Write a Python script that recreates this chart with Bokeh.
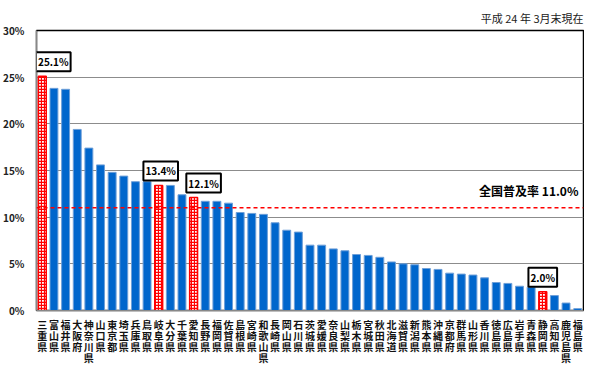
from bokeh.plotting import figure
from bokeh.models import FactorRange, Span, Label, ColumnDataSource, FixedTicker
from bokeh.embed import file_html
from bokeh.resources import INLINE

# ---- data ----
prefectures = ["三重県", "富山県", "福井県", "大阪府", "神奈川県", "山口県", "東京都", "埼玉県",
               "兵庫県", "鳥取県", "岐阜県", "大分県", "千葉県", "愛知県", "長野県", "福岡県",
               "佐賀県", "島根県", "宮崎県", "和歌山県", "長崎県", "岡山県", "石川県", "茨城県",
               "愛媛県", "奈良県", "山梨県", "栃木県", "宮城県", "秋田県", "北海道", "滋賀県",
               "新潟県", "熊本県", "沖縄県", "京都府", "群馬県", "山形県", "香川県", "徳島県",
               "広島県", "岩手県", "青森県", "静岡県", "高知県", "鹿児島県", "福島県"]
values = [25.1, 23.8, 23.7, 19.4, 17.4, 15.6, 14.8, 14.4,
          13.8, 13.8, 13.4, 13.4, 12.4, 12.1, 11.7, 11.7,
          11.5, 10.5, 10.4, 10.3, 9.4, 8.6, 8.4, 7.0,
          7.0, 6.6, 6.4, 6.0, 5.9, 5.7, 5.2, 5.0,
          4.9, 4.5, 4.4, 4.0, 3.9, 3.8, 3.5, 3.0,
          2.9, 2.6, 2.5, 2.0, 1.6, 0.8, 0.2]
highlighted = ["三重県", "岐阜県", "愛知県", "静岡県"]
national_rate = 11.0
y_ticks = [0, 5, 10, 15, 20, 25, 30]
y_tick_labels = ["0%", "5%", "10%", "15%", "20%", "25%", "30%"]
title_text = "平成 24 年 3月末現在"

FONT = "Noto Sans CJK JP"
STACK_FONT = "DejaVu Sans, Noto Sans CJK JP"

# category factors: one character per line
factors = ["\n".join(n) for n in prefectures]

blue = dict(x=[], top=[])
red = dict(x=[], top=[])
for name, f, v in zip(prefectures, factors, values):
    d = red if name in highlighted else blue
    d["x"].append(f)
    d["top"].append(v)

p = figure(width=584, height=366,
           x_range=FactorRange(factors=factors, range_padding=0),
           y_range=(y_ticks[0], y_ticks[-1]),
           output_backend="svg", toolbar_location=None,
           min_border_left=0, min_border_right=1, min_border_top=30, min_border_bottom=0)

p.title.text = title_text
p.title.align = "right"
p.title.text_font = FONT
p.title.text_font_size = "11px"
p.title.text_font_style = "normal"
p.title.text_color = "#222222"

p.vbar(x="x", top="top", width=0.68, source=ColumnDataSource(blue),
       fill_color="#0066CC", line_color="#6E9FD8", line_width=1)
p.vbar(x="x", top="top", width=0.68, source=ColumnDataSource(red),
       fill_color="white", line_color="red", line_width=1.5,
       hatch_pattern="+", hatch_color="red", hatch_scale=3, hatch_weight=1.3)

p.add_layout(Span(location=national_rate, dimension="width", line_color="red",
                  line_dash="4 3", line_width=1.5))
p.add_layout(Label(x=len(factors), y=national_rate, x_offset=-5, y_offset=9,
                   text=f"全国普及率 {national_rate:.1f}%", text_align="right",
                   text_baseline="bottom", text_font=FONT, text_font_size="12px",
                   text_font_style="bold", text_color="black"))

offsets = {"三重県": 11, "岐阜県": 2, "愛知県": 10, "静岡県": 0}
for name in highlighted:
    i = prefectures.index(name)
    p.add_layout(Label(x=i + 0.5, y=values[i], x_offset=offsets[name], y_offset=5,
                       text=f"{values[i]:.1f}%", text_align="center", text_baseline="bottom",
                       text_font=FONT, text_font_size="10px", text_font_style="bold",
                       text_color="black", background_fill_color="white",
                       border_line_color="black", border_line_width=2, padding=2))

p.yaxis.ticker = FixedTicker(ticks=y_ticks)
p.yaxis.major_label_overrides = {t: l for t, l in zip(y_ticks, y_tick_labels)}
p.yaxis.major_label_text_font = FONT
p.yaxis.major_label_text_font_size = "10px"
p.yaxis.major_label_text_font_style = "bold"
p.yaxis.major_label_text_color = "#222222"
p.yaxis.axis_line_color = "#888888"
p.yaxis.major_tick_line_color = None
p.yaxis.minor_tick_line_color = None
p.yaxis.major_label_standoff = 6

p.xaxis.major_label_text_font = STACK_FONT
p.xaxis.major_label_text_font_size = "10px"
p.xaxis.major_label_text_font_style = "bold"
p.xaxis.major_label_text_color = "#111111"
p.xaxis.major_label_text_line_height = 1.0
p.xaxis.major_label_orientation = "horizontal"
p.xaxis.axis_line_color = "#888888"
p.xaxis.major_tick_line_color = None
p.xaxis.major_label_standoff = 3

p.xgrid.grid_line_color = None
p.ygrid.grid_line_color = "#8c8c8c"
p.ygrid.grid_line_width = 1
p.outline_line_color = "black"
p.outline_line_width = 1.5
p.background_fill_color = "white"
p.border_fill_color = "white"

open("out.html", "w").write(file_html(p, INLINE))
